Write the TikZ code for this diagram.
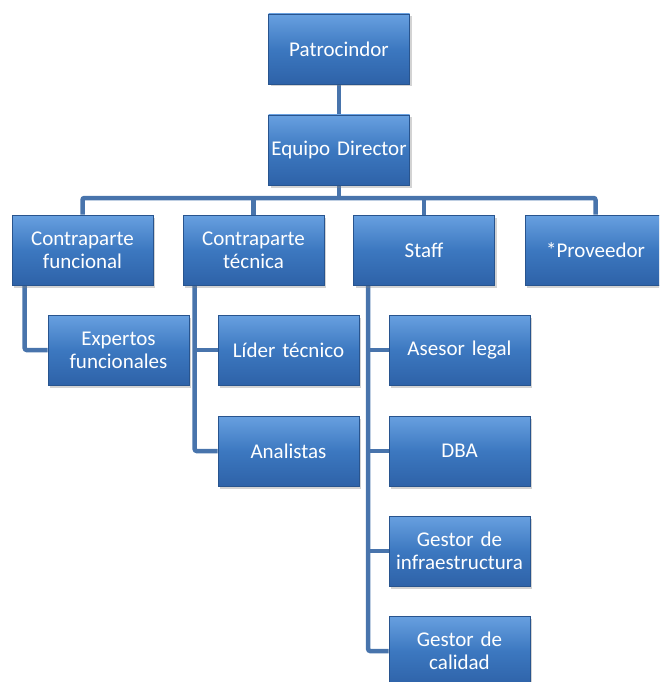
\documentclass[tikz,border=0pt]{standalone}
\usepackage{fontspec}
\setmainfont{Carlito}
\usetikzlibrary{shadows}
\definecolor{boxtop}{RGB}{104,160,224}
\definecolor{boxmid}{RGB}{60,120,192}
\definecolor{boxbot}{RGB}{46,98,168}
\definecolor{boxline}{RGB}{40,84,142}
\definecolor{linkc}{RGB}{72,116,172}
\begin{document}
\begin{tikzpicture}[x=1pt,y=-1pt,
  orgbox/.style={rectangle, minimum width=141pt, minimum height=70pt,
    inner sep=1pt, top color=boxtop, bottom color=boxbot, middle color=boxmid,
    draw=boxline, line width=0.6pt, text=white, align=center, text width=139pt,
    font=\fontsize{21}{23}\selectfont,
    drop shadow={shadow xshift=2pt, shadow yshift=-2.5pt, opacity=0.35}},
  link/.style={draw=linkc, line width=4.5pt, rounded corners=2pt}]
\pgfdeclarelayer{bg}
\pgfsetlayers{bg,main}
\useasboundingbox (0,0) rectangle (659,682);
\begin{scope}
\clip (0,0) rectangle (659,682);
\coordinate (bus) at (0,198);
\node[orgbox] (P) at (339,49) {Patrocindor};
\node[orgbox] (ED) at (339,150) {Equipo Director};
\node[orgbox] (CF) at (82.5,250) {Contraparte\\funcional};
\node[orgbox] (CT) at (253.5,250) {Contraparte\\técnica};
\node[orgbox] (ST) at (424,250) {Staff};
\node[orgbox] (PR) at (595.5,250) {*Proveedor};
\node[orgbox] (EF) at (118.5,350) {Expertos\\funcionales};
\node[orgbox] (LT) at (288.5,350) {Líder técnico};
\node[orgbox] (AN) at (288.5,451) {Analistas};
\node[orgbox] (AL) at (459.5,350) {Asesor legal};
\node[orgbox] (DBA) at (459.5,451) {DBA};
\node[orgbox] (GI) at (459.5,551) {Gestor de\\infraestructura};
\node[orgbox] (GC) at (459.5,651) {Gestor de\\calidad};
\begin{pgfonlayer}{bg}
\draw[link] (P.south) -- (ED.north);
\draw[link] (ED.south) -- (ED.south |- bus);
\draw[link] (CF.north) -- (CF.north |- bus) -- (PR.north |- bus) -- (PR.north);
\draw[link] (CT.north) -- (CT.north |- bus);
\draw[link] (ST.north) -- (ST.north |- bus);
\draw[link] ([xshift=13pt]CF.south west) |- (EF.west);
\draw[link] ([xshift=12pt]CT.south west) |- (AN.west);
\draw[link] ([xshift=12pt]CT.south west |- LT.west) -- (LT.west);
\draw[link] ([xshift=15pt]ST.south west) |- (GC.west);
\draw[link] ([xshift=15pt]ST.south west |- AL.west) -- (AL.west);
\draw[link] ([xshift=15pt]ST.south west |- DBA.west) -- (DBA.west);
\draw[link] ([xshift=15pt]ST.south west |- GI.west) -- (GI.west);
\end{pgfonlayer}
\end{scope}
\end{tikzpicture}
\end{document}
